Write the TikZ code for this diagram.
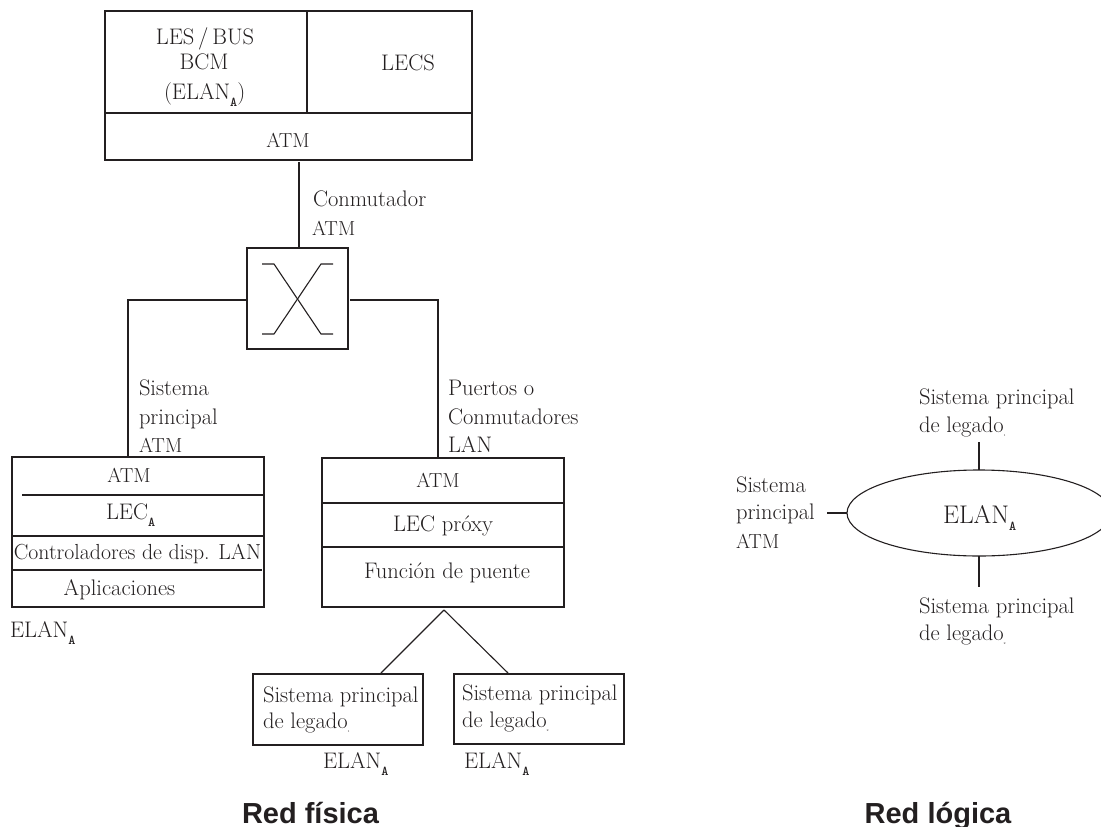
\documentclass[tikz,border=0pt]{standalone}
\usepackage{fontspec}
\newfontfamily\titlefont{Liberation Sans}
\usetikzlibrary{shapes.geometric,calc}
\definecolor{ink}{HTML}{231F20}
\newcommand{\subA}{\raisebox{-7pt}{\fontsize{13.5}{13.5}\selectfont\ttfamily\bfseries A}}
\newcommand{\subN}[1]{\raisebox{-0.5ex}{\fontsize{3}{3}\selectfont #1}}
\tikzset{
  x=1pt,y=-1pt,
  every node/.style={text=ink},
  line/.style={draw=ink,line width=1.1pt},
  thickline/.style={draw=ink,line width=1.9pt},
  boxn/.style={line,rectangle,inner sep=0pt,outer sep=0pt},
  lab/.style={font=\fontsize{22.5}{22.5}\selectfont,inner sep=0pt,outer sep=0pt,anchor=base west},
  labc/.style={font=\fontsize{22.5}{22.5}\selectfont,inner sep=0pt,outer sep=0pt,anchor=base},
  caps/.style={font=\fontsize{20.3}{20.3}\selectfont\addfontfeature{FakeBold=0.3}},
  titlelab/.style={font=\titlefont\bfseries\fontsize{29}{29}\selectfont,inner sep=0pt,anchor=base}
}
\begin{document}
\begin{tikzpicture}
\useasboundingbox (0,0) rectangle (1101,827);
% top box
\node[boxn,minimum width=367pt,minimum height=149pt] (top) at (288.5,85.5) {};
\coordinate (topdivL) at (105,113);
\coordinate (topdivR) at (472,113);
\coordinate (topvT) at (307,11);
\coordinate (topvB) at (307,113);
\draw[line] (topdivL) -- (topdivR);
\draw[line] (topvT) -- (topvB);
\node[labc] (t1) at (205,44) {LES\,/\,BUS};
\node[labc] (t2) at (204,69) {BCM};
\node[lab] (t3) at (164,99) {(ELAN\subA)};
\node[labc] (t4) at (408,70) {LECS};
\node[labc,caps] (t5) at (288,147) {ATM};
% switch
\node[boxn,minimum width=101pt,minimum height=101pt] (sw) at (297.5,298.5) {};
\coordinate (topout) at (299,162);
\coordinate (swin) at (299,248);
\draw[line] (topout) -- (swin);
\coordinate (a1) at (262,264); \coordinate (a2) at (274,264);
\coordinate (a3) at (321,334); \coordinate (a4) at (333,334);
\coordinate (b1) at (333,264); \coordinate (b2) at (321,264);
\coordinate (b3) at (274,334); \coordinate (b4) at (262,334);
\draw[line] (a1) -- (a2) -- (a3) -- (a4);
\draw[line] (b1) -- (b2) -- (b3) -- (b4);
\node[lab] (c1) at (313,206) {Conmutador};
\node[lab,caps] (c2) at (312,235) {ATM};
% left box
\node[boxn,minimum width=252pt,minimum height=150pt] (lb) at (138,532) {};
\coordinate (swL) at (247,300);
\coordinate (lcorner) at (128,300);
\coordinate (lbin) at (128,457);
\draw[line] (swL) -- (lcorner) -- (lbin);
\coordinate (l1a) at (22,495); \coordinate (l1b) at (264,495);
\coordinate (l2a) at (12,536); \coordinate (l2b) at (264,536);
\coordinate (l3a) at (12,570); \coordinate (l3b) at (262,570);
\draw[line] (l1a) -- (l1b);
\draw[line] (l2a) -- (l2b);
\draw[line] (l3a) -- (l3b);
\node[labc,caps] (l1) at (129,482) {ATM};
\node[lab] (l2) at (106,519) {LEC\subA};
\node[labc,font=\fontsize{21.8}{21.8}\selectfont] (l3) at (137.5,559) {Controladores de disp. LAN};
\node[labc] (l4) at (119.5,595) {Aplicaciones};
\node[lab] (l5) at (10,637) {ELAN\subA};
\node[lab] (s1) at (139,395) {Sistema};
\node[lab] (s2) at (139,424) {principal};
\node[lab,caps] (s3) at (139,452) {ATM};
% right box
\node[boxn,minimum width=242pt,minimum height=149pt] (rb) at (443,532.5) {};
\coordinate (swR) at (350,300);
\coordinate (rcorner) at (438,300);
\coordinate (rbin) at (438,458);
\draw[line] (swR) -- (rcorner) -- (rbin);
\coordinate (r1a) at (322,503); \coordinate (r1b) at (564,503);
\coordinate (r2a) at (322,547); \coordinate (r2b) at (564,547);
\draw[line] (r1a) -- (r1b);
\draw[line] (r2a) -- (r2b);
\node[labc,caps] (r1) at (438,487) {ATM};
\node[labc] (r2) at (443,531) {LEC próxy};
\node[labc] (r3) at (447,578) {Función de puente};
\node[lab] (p1) at (448,395) {Puertos o};
\node[lab] (p2) at (448,424) {Conmutadores};
\node[lab] (p3) at (448,452) {LAN};
% legacy boxes
\node[boxn,thickline,minimum width=170pt,minimum height=71pt] (h1) at (338,709.5) {};
\node[boxn,thickline,minimum width=170pt,minimum height=70pt] (h2) at (539,709) {};
\coordinate (apex) at (444,610);
\coordinate (h1in) at (381,673);
\coordinate (h2in) at (508,673);
\draw[line] (apex) -- (h1in);
\draw[line] (apex) -- (h2in);
\node[lab] (h1a) at (263,702) {Sistema principal};
\node[lab] (h1b) at (263,728) {de legado\subN{1}};
\node[lab] (h2a) at (462,700) {Sistema principal};
\node[lab] (h2b) at (462,727) {de legado\subN{2}};
\node[lab] (e1) at (323,768) {ELAN\subA};
\node[lab] (e2) at (464,768) {ELAN\subA};
\node[titlelab] (tf) at (310.5,823) {Red física};
% logical
\node[ellipse,line,inner sep=0pt,outer sep=0pt,minimum width=264pt,minimum height=86pt] (el) at (979,513) {};
\node[lab,font=\fontsize{25.5}{25.5}\selectfont] (elt) at (943,523) {ELAN\subA};
\coordinate (e1t) at (979,442);
\coordinate (e1b) at (979,587);
\coordinate (eleft) at (827,513);
\draw[line] (e1t) -- (el.north);
\draw[line] (el.south) -- (e1b);
\draw[line] (eleft) -- (el.west);
\node[lab] (g1) at (919,404) {Sistema principal};
\node[lab] (g2) at (919,432) {de legado\subN{1}};
\node[lab] (g3) at (919,613) {Sistema principal};
\node[lab] (g4) at (919,640) {de legado\subN{2}};
\node[lab] (g5) at (736,492) {Sistema};
\node[lab] (g6) at (736,519) {principal};
\node[lab,caps] (g7) at (736,548) {ATM};
\node[titlelab] (tl) at (938,823) {Red lógica};
\end{tikzpicture}
\end{document}
